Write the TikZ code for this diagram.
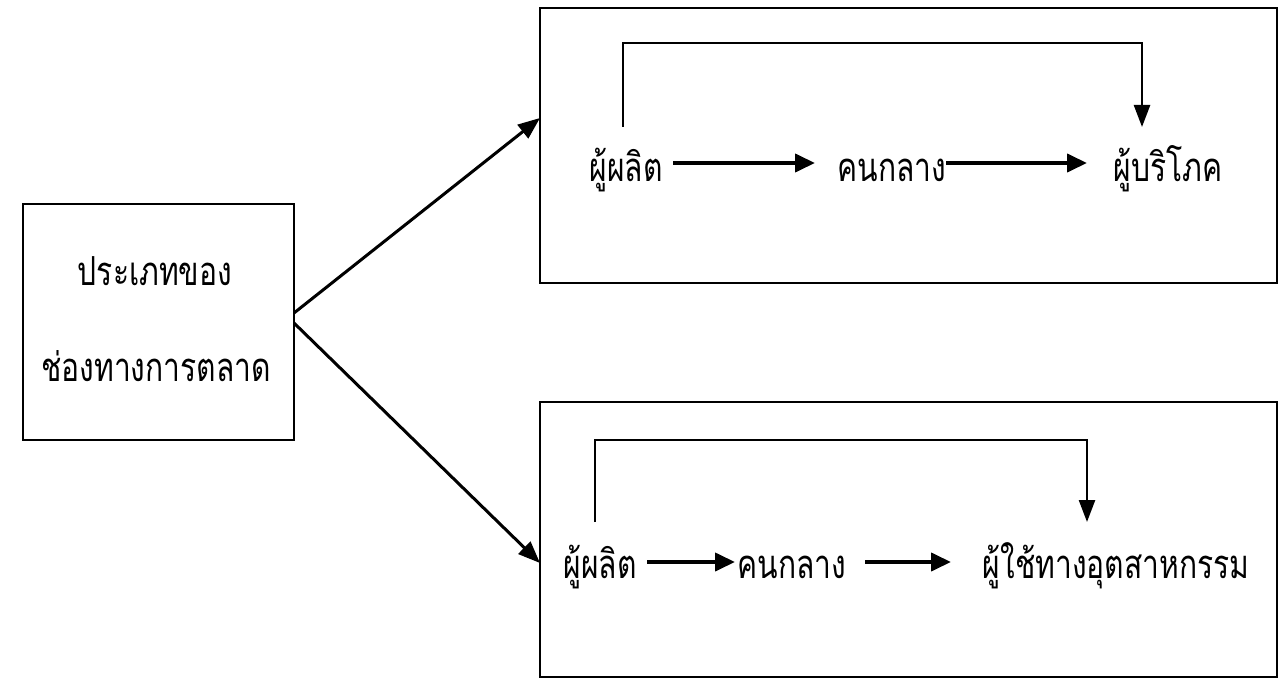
\documentclass[tikz,border=0pt]{standalone}
\usepackage{fontspec}
\newfontfamily\thaifont[Script=Thai,FakeStretch=0.75]{Loma}
\usetikzlibrary{arrows.meta}
\tikzset{
  lbl/.style={font=\thaifont\fontsize{40}{44}\selectfont, inner sep=0pt, anchor=base},
  boxline/.style={line width=2pt, draw=black},
  flow/.style={line width=4pt, -{Triangle[length=20pt,width=18pt]}},
  diag/.style={line width=3pt, -{Triangle[length=22pt,width=17pt]}},
  bypass/.style={line width=2pt},
  bypasshead/.style={line width=2.5pt, -{Triangle[length=22pt,width=16pt]}}
}
\begin{document}
\begin{tikzpicture}[x=1pt,y=-1pt]
\useasboundingbox (0,0) rectangle (1279,679);
% boxes
\draw[boxline] (23,204) rectangle (294,440);
\draw[boxline] (540,8) rectangle (1277,283);
\draw[boxline] (540,402) rectangle (1277,677);
\node[lbl] (l1) at (155,285) {ประเภทของ};
\node[lbl] (l2) at (156,381) {ช่องทางการตลาด};
\coordinate (mainA) at (294,313);
\coordinate (mainB) at (294,323);
\coordinate (topIn) at (540,118);
\coordinate (botIn) at (540,563);
\draw[diag] (mainA) -- (topIn);
\draw[diag] (mainB) -- (botIn);
% top row
\node[lbl] (p1) at (626,182) {ผู้ผลิต};
\node[lbl] (m1) at (892,182) {คนกลาง};
\node[lbl] (c1) at (1168,182) {ผู้บริโภค};
\coordinate (p1a) at (673,163);
\coordinate (p1b) at (815,163);
\coordinate (m1a) at (946,163);
\coordinate (m1b) at (1087,163);
\draw[flow] (p1a) -- (p1b);
\draw[flow] (m1a) -- (m1b);
\coordinate (t1s) at (623,127);
\coordinate (t1e) at (1142,127);
\draw[bypass] (t1s) -- (623,43) -- (1142,43) -- (1142,80);
\draw[bypasshead] (1142,78) -- (t1e);
% bottom row
\node[lbl] (p2) at (600,578) {ผู้ผลิต};
\node[lbl] (m2) at (792,578) {คนกลาง};
\node[lbl] (c2) at (1116,578) {ผู้ใช้ทางอุตสาหกรรม};
\coordinate (p2a) at (647,562);
\coordinate (p2b) at (735,562);
\coordinate (m2a) at (865,562);
\coordinate (m2b) at (951,562);
\draw[flow] (p2a) -- (p2b);
\draw[flow] (m2a) -- (m2b);
\coordinate (t2s) at (595,522);
\coordinate (t2e) at (1087,522);
\draw[bypass] (t2s) -- (595,440) -- (1087,440) -- (1087,475);
\draw[bypasshead] (1087,473) -- (t2e);
\end{tikzpicture}
\end{document}
